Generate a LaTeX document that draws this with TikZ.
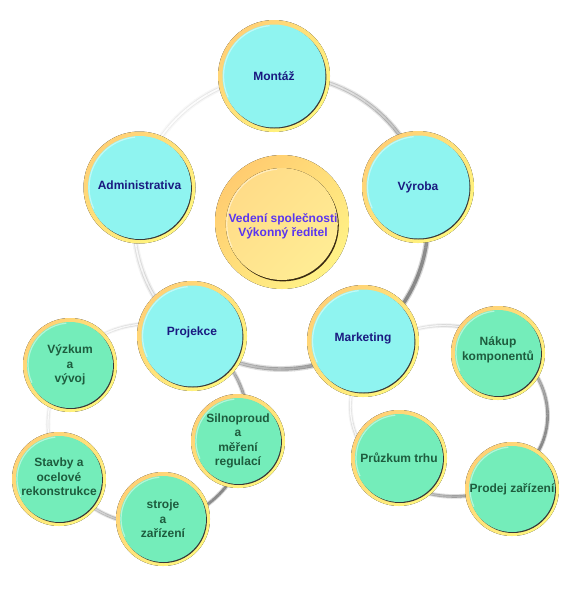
\documentclass[tikz,border=0pt]{standalone}
\usepackage{fontspec}
\setmainfont{Liberation Sans}
\usetikzlibrary{calc}
\definecolor{ringO}{HTML}{FFD076}
\definecolor{ringY}{HTML}{FFF67E}
\definecolor{cyanF}{HTML}{8FF4F0}
\definecolor{greenF}{HTML}{74EDBA}
\definecolor{navyT}{HTML}{1A1A80}
\definecolor{greenT}{HTML}{1E5C3E}
\definecolor{ctrT}{HTML}{5A35F0}
\definecolor{ctrOA}{HTML}{FFCC70}
\definecolor{ctrOB}{HTML}{FFF286}
\definecolor{ctrA}{HTML}{FFDC88}
\definecolor{ctrB}{HTML}{FFEC94}
\definecolor{ctrEdge}{HTML}{3A2A10}
\tikzset{
  lbl/.style={font=\fontsize{12}{14.5}\selectfont\bfseries, align=center, inner sep=0pt},
  satlbl/.style={lbl, text=navyT},
  grnlbl/.style={lbl, text=greenT},
  ctrlbl/.style={lbl, text=ctrT, font=\fontsize{12}{14}\selectfont\bfseries},
}
% #1 name, #2 centre, #3 outer r, #4 inner r, #5 fill, #6 label style, #7 text
\newcommand\Bubble[7]{%
  \fill[top color=ringO, bottom color=ringY, shading angle=45] (#2) circle (#3);
  \fill[black!78] ($(#2)+(0.9,-1.0)$) circle (#4);
  \fill[#5] (#2) circle (#4);
  \draw[white, opacity=0.45, line width=1.2] (#2) ++(95:#4-1) arc (95:205:#4-1);
  \node[#6] (#1) at (#2) {#7};
}
% #1 centre, #2 xr, #3 yr, #4 rotation, #5 width scale
\newcommand\Tube[5]{%
  \begin{scope}[shift={(#1)}, rotate=#4]
  \pgfmathsetmacro\lwA{6.5*#5}
  \pgfmathsetmacro\lwB{3.8*#5}
  \pgfmathsetmacro\lwC{1.8*#5}
  \foreach \a in {0,5,...,355}{
    \pgfmathsetmacro\ff{(1+cos(\a+#4+35))/2}
    \pgfmathsetmacro\dk{7+40*\ff}
    \pgfmathsetmacro\dA{0.35*\dk}
    \pgfmathsetmacro\dC{\dk*(0.1+0.9*\ff)}
    \draw[line width=\lwA pt, black!\dA] (\a:#2 and #3) arc[start angle=\a, end angle=\a+5.4, x radius=#2, y radius=#3];
    \draw[line width=\lwB pt, black!\dk] (\a:#2 and #3) arc[start angle=\a, end angle=\a+5.4, x radius=#2, y radius=#3];
    \draw[line width=\lwC pt, black!\dC] (\a:#2 and #3) arc[start angle=\a, end angle=\a+5.4, x radius=#2, y radius=#3];
  }
  \end{scope}}
\begin{document}
\begin{tikzpicture}[x=1pt, y=1pt]
\useasboundingbox (0,0) rectangle (570,-600);
\fill[white] (0,0) rectangle (570,-600);
% rings
\Tube{281,-222}{147}{147}{0}{0.9}
\Tube{148,-424}{100}{100}{0}{0.7}
\Tube{449,-411}{99}{85}{-10}{0.7}
% centre
\fill[top color=ctrOA, bottom color=ctrOB, shading angle=45] (282,-222) circle (67);
\fill[ctrEdge] (282.8,-225.4) circle (56);
\fill[top color=ctrA, bottom color=ctrB, shading angle=45] (281.8,-224) circle (56);
\draw[white, opacity=0.45, line width=1.2] (281.8,-224) ++(95:55) arc (95:205:55);
\node[ctrlbl] (ctr) at (283,-226) {Vedení společnosti\\Výkonný ředitel};
% main satellites
\Bubble{montaz}{274,-76}{56}{51.5}{cyanF}{satlbl}{Montáž}
\Bubble{vyroba}{418,-187}{56}{51.5}{cyanF}{satlbl}{Výroba}
\Bubble{admin}{139.5,-187.5}{56}{51.5}{cyanF}{satlbl, yshift=2}{Administrativa}
\Bubble{proj}{192,-336}{55}{50.5}{cyanF}{satlbl, yshift=4}{Projekce}
\Bubble{mark}{363,-341}{56}{51.5}{cyanF}{satlbl, yshift=3}{Marketing}
% left cluster
\Bubble{vyzkum}{70,-365}{47}{43}{greenF}{grnlbl}{Výzkum\\a\\vývoj}
\Bubble{silno}{238,-441}{47}{43}{greenF}{grnlbl}{Silnoproud\\a\\měření\\regulací}
\Bubble{stavby}{59,-479}{47}{43}{greenF}{grnlbl, yshift=2}{Stavby a\\ocelové\\rekonstrukce}
\Bubble{stroje}{163,-519}{47}{43}{greenF}{grnlbl}{stroje\\a\\zařízení}
% right cluster
\Bubble{nakup}{498,-353}{47}{43}{greenF}{grnlbl, yshift=3}{Nákup\\komponentů}
\Bubble{pruzkum}{399,-458}{48}{44}{greenF}{grnlbl}{Průzkum trhu}
\Bubble{prodej}{512,-489}{47}{43}{greenF}{grnlbl}{Prodej zařízení}
\end{tikzpicture}
\end{document}
